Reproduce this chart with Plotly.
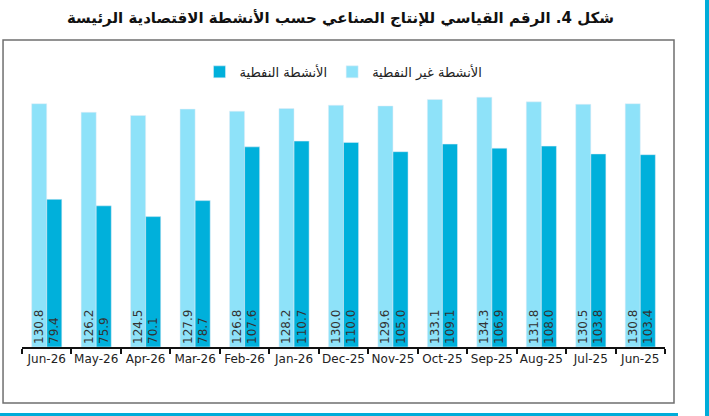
import plotly.graph_objects as go

months = ["Jun-26", "May-26", "Apr-26", "Mar-26", "Feb-26", "Jan-26", "Dec-25",
          "Nov-25", "Oct-25", "Sep-25", "Aug-25", "Jul-25", "Jun-25"]
non_oil = [130.8, 126.2, 124.5, 127.9, 126.8, 128.2, 130.0, 129.6, 133.1, 134.3, 131.8, 130.5, 130.8]
oil = [79.4, 75.9, 70.1, 78.7, 107.6, 110.7, 110.0, 105.0, 109.1, 106.9, 108.0, 103.8, 103.4]

LIGHT = "#8ee2f9"
DARK = "#00b0db"
BAND = "#00acd9"

fig = go.Figure()
fig.add_bar(
    x=months, y=non_oil, name="الأنشطة غير النفطية",
    marker_color=LIGHT, text=[f"{v:.1f}" for v in non_oil],
)
fig.add_bar(
    x=months, y=oil, name="الأنشطة النفطية",
    marker_color=DARK, text=[f"{v:.1f}" for v in oil],
)
fig.update_traces(
    textposition="inside", insidetextanchor="start", textangle=-90,
    textfont=dict(family="DejaVu Sans", size=12, color="#333333"),
    constraintext="none", cliponaxis=False, hoverinfo="skip",
)

# plot area in pixels: x 22..665, y 68..347
fig.update_layout(
    width=709, height=416,
    margin=dict(l=22, r=44, t=68, b=69, autoexpand=False),
    paper_bgcolor="white", plot_bgcolor="white",
    barmode="group", bargap=0.39, bargroupgap=0,
    showlegend=True,
    legend=dict(
        orientation="h", x=0.5, xanchor="center", y=0.986, yanchor="middle",
        traceorder="reversed", font=dict(family="DejaVu Sans", size=13, color="#222222"),
        itemwidth=30, bgcolor="rgba(0,0,0,0)",
    ),
    font=dict(family="DejaVu Sans", color="#222222"),
    xaxis=dict(
        type="category", tickson="boundaries", ticks="outside", ticklen=5,
        tickcolor="#111111", tickwidth=1.5, showline=True, linecolor="#111111",
        linewidth=1.5, showgrid=False, tickangle=0, automargin=False,
        tickfont=dict(size=12, color="#222222"), fixedrange=True,
    ),
    yaxis=dict(range=[0, 150], visible=False, fixedrange=True),
    annotations=[dict(
        text="<b>شكل 4. الرقم القياسي للإنتاج الصناعي حسب الأنشطة الاقتصادية الرئيسة</b>",
        xref="paper", yref="paper", x=0.495, y=1.179, xanchor="center", yanchor="middle",
        showarrow=False, font=dict(family="DejaVu Sans", size=15, color="#111111"),
    )],
    shapes=[
        dict(type="rect", xref="paper", yref="paper", x0=-0.0295, x1=1.0140, y0=-0.2007, y1=1.1004,
             line=dict(color="#6f6f6f", width=1.5), fillcolor="rgba(0,0,0,0)", layer="below"),
        dict(type="rect", xref="paper", yref="paper", x0=-0.0342, x1=1.0202, y0=-0.2473, y1=-0.2366,
             line=dict(width=0), fillcolor=BAND),
        dict(type="rect", xref="paper", yref="paper", x0=1.0622, x1=1.0700, y0=-0.2473, y1=1.2437,
             line=dict(width=0), fillcolor=BAND),
    ],
)

# the browser's default 8px body margin would shift the whole figure
fig.write_html(
    "out.html",
    config={"displayModeBar": False},
    post_script="document.body.style.margin='0';",
)
